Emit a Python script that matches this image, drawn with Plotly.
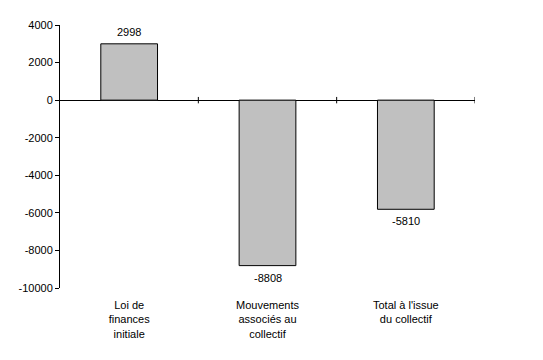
import plotly.graph_objects as go

categories = ["Loi de<br>finances<br>initiale", "Mouvements<br>associés au<br>collectif", "Total à l'issue<br>du collectif"]
values = [2998, -8808, -5810]
y_tickvals = [4000, 2000, 0, -2000, -4000, -6000, -8000, -10000]
y_ticktext = ["4000", "2000", "0", "-2000", "-4000", "-6000", "-8000", "-10000"]
boundaries = [0.5, 1.5, 2.5]

FONT = "Liberation Sans, Arial, sans-serif"

xs = list(range(len(categories)))

fig = go.Figure()
fig.add_trace(go.Bar(
    x=xs,
    y=values,
    width=0.41,
    marker=dict(color="#c0c0c0", line=dict(color="black", width=1)),
))

for x, v in zip(xs, values):
    fig.add_annotation(x=x, y=v, xref="x", yref="y", text=str(v), showarrow=False,
                       yanchor="middle", yshift=12 if v >= 0 else -12,
                       font=dict(family=FONT, size=11, color="black"))

for b in boundaries:
    fig.add_shape(type="line", xref="x", yref="y", x0=b, x1=b, y0=-170, y1=170,
                  line=dict(color="black", width=1))

fig.update_layout(
    width=535, height=352,
    margin=dict(l=52, r=68, t=17, b=72),
    plot_bgcolor="white", paper_bgcolor="white",
    font=dict(family=FONT, size=11, color="black"),
    showlegend=False,
    xaxis=dict(
        tickvals=xs, ticktext=categories,
        range=[-0.5, 2.5], showline=False, ticks="", showgrid=False,
        zeroline=False, ticklabelstandoff=9,
    ),
    yaxis=dict(
        range=[-10000, 4000], tickvals=y_tickvals, ticktext=y_ticktext,
        showline=True, linecolor="black", linewidth=1, ticks="outside",
        ticklen=4, tickcolor="black", showgrid=False,
        zeroline=True, zerolinecolor="black", zerolinewidth=1,
    ),
)

fig.write_html("out.html")
